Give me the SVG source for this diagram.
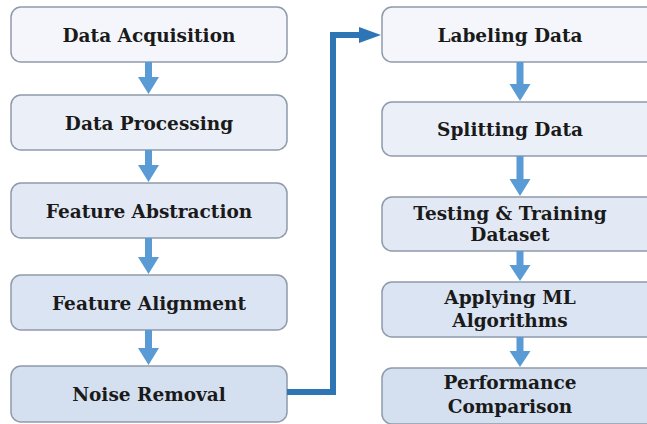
<svg xmlns="http://www.w3.org/2000/svg" width="647" height="424" viewBox="0 0 647 424">
<defs>
<style>
.box{stroke:#8f9aaa;stroke-width:1.5}
.t{font-family:"DejaVu Serif","Liberation Serif",serif;font-weight:bold;font-size:18.5px;fill:#1a1a1a;text-anchor:middle}
.arr{fill:#5b9bd5}
.conn{fill:none;stroke:#2e75b6;stroke-width:6}
</style>
</defs>
<rect width="647" height="424" fill="#ffffff"/>
<g id="n1"><rect class="box" x="11" y="7" width="276" height="55" rx="10" fill="#f4f6fb"/><text class="t" x="149" y="41.5">Data Acquisition</text></g>
<g id="n2"><rect class="box" x="11" y="95" width="276" height="55" rx="10" fill="#ebf0f8"/><text class="t" x="149" y="129.5">Data Processing</text></g>
<g id="n3"><rect class="box" x="11" y="183" width="276" height="55" rx="10" fill="#e2e9f5"/><text class="t" x="149" y="217.5">Feature Abstraction</text></g>
<g id="n4"><rect class="box" x="11" y="275" width="276" height="55" rx="10" fill="#dbe4f3"/><text class="t" x="149" y="309.5">Feature Alignment</text></g>
<g id="n5"><rect class="box" x="11" y="366" width="276" height="56" rx="10" fill="#d4dff0"/><text class="t" x="149" y="400.5">Noise Removal</text></g>
<g id="n6"><rect class="box" x="382" y="7" width="280" height="55" rx="10" fill="#f4f6fb"/><text class="t" x="510" y="41.5">Labeling Data</text></g>
<g id="n7"><rect class="box" x="382" y="102" width="280" height="54" rx="10" fill="#ebf0f8"/><text class="t" x="510" y="136">Splitting Data</text></g>
<g id="n8"><rect class="box" x="382" y="197" width="280" height="54" rx="10" fill="#e2e9f5"/><text class="t" x="510" y="220">Testing &amp; Training</text><text class="t" x="510" y="241">Dataset</text></g>
<g id="n9"><rect class="box" x="382" y="282" width="280" height="55" rx="10" fill="#dbe4f3"/><text class="t" x="510" y="304">Applying ML</text><text class="t" x="510" y="327">Algorithms</text></g>
<g id="n10"><rect class="box" x="382" y="368" width="280" height="56" rx="10" fill="#d4dff0"/><text class="t" x="510" y="389">Performance</text><text class="t" x="510" y="413">Comparison</text></g>
<g id="connectors">
<path class="arr" d="M145,62 h7 v15 h7 l-10.5,17 l-10.5,-17 h7 z"/>
<path class="arr" d="M145,150 h7 v15 h7 l-10.5,17 l-10.5,-17 h7 z"/>
<path class="arr" d="M145,238 h7 v19 h7 l-10.5,17 l-10.5,-17 h7 z"/>
<path class="arr" d="M145,330 h7 v18 h7 l-10.5,17 l-10.5,-17 h7 z"/>
<path class="arr" d="M516.5,62 h7 v22 h7 l-10.5,17 l-10.5,-17 h7 z"/>
<path class="arr" d="M516.5,156 h7 v23 h7 l-10.5,17 l-10.5,-17 h7 z"/>
<path class="arr" d="M516.5,251 h7 v14 h7 l-10.5,16 l-10.5,-16 h7 z"/>
<path class="arr" d="M516.5,337 h7 v14 h7 l-10.5,16 l-10.5,-16 h7 z"/>
<path class="conn" d="M287,392 H333 V35 H362"/>
<path fill="#2e75b6" d="M359,27 L381,35 L359,43 z"/>
</g>
</svg>
